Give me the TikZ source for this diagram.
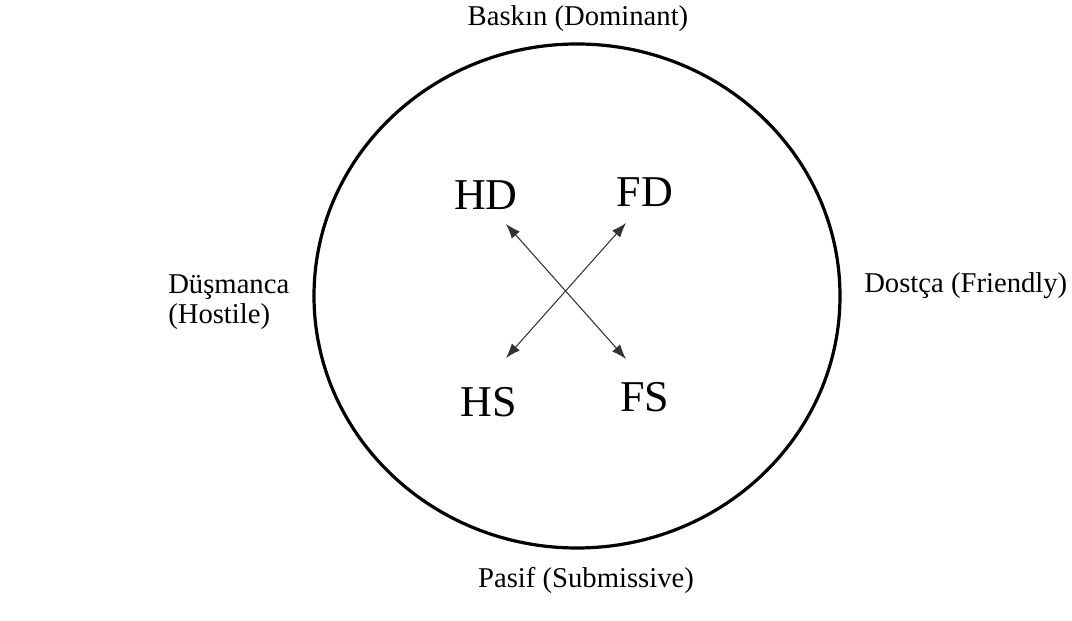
\documentclass[tikz,border=0pt]{standalone}
\usepackage{fontspec}
\setmainfont{Liberation Serif}
\usepackage{tikz}
\usetikzlibrary{positioning,arrows.meta}
\tikzset{
ring/.style={line width=2.4pt},
pole/.style={inner sep=0pt, font=\fontsize{21.5}{22.5}\selectfont},
quadrant/.style={inner sep=0pt, font=\fontsize{33}{35}\selectfont},
link/.style={line width=0.8pt, black!80, {Latex[length=11pt,width=8pt]}-{Latex[length=11pt,width=8pt]}}
}

\begin{document}
\begin{tikzpicture}[x=0.75pt, y=0.75pt]
  \useasboundingbox (0,0) rectangle (1072,621);
  \draw[ring] (577,325) ellipse [x radius=263, y radius=252];
  % the four poles
  \node[pole, anchor=base] (dominant) at (578,595) {Baskın (Dominant)};
  \node[pole, anchor=base] (submissive) at (586,33) {Pasif (Submissive)};
  \node[pole, anchor=west, align=left] (hostile) at (168,319) {Düşmanca\\(Hostile)};
  \node[pole, anchor=base west] (friendly) at (864,328) {Dostça (Friendly)};
  % quadrants
  \node[quadrant] (HD) at (486,426) {HD};
  \node[quadrant] (FD) at (645,429) {FD};
  \node[quadrant] (HS) at (489,219) {HS};
  \node[quadrant] (FS) at (645,224) {FS};
  \coordinate (hd end) at (506,397);
  \coordinate (fd end) at (626,398);
  \coordinate (hs end) at (506,263);
  \coordinate (fs end) at (626,262);
  \draw[link] (hd end) -- (fs end);
  \draw[link] (fd end) -- (hs end);
\end{tikzpicture}
\end{document}
